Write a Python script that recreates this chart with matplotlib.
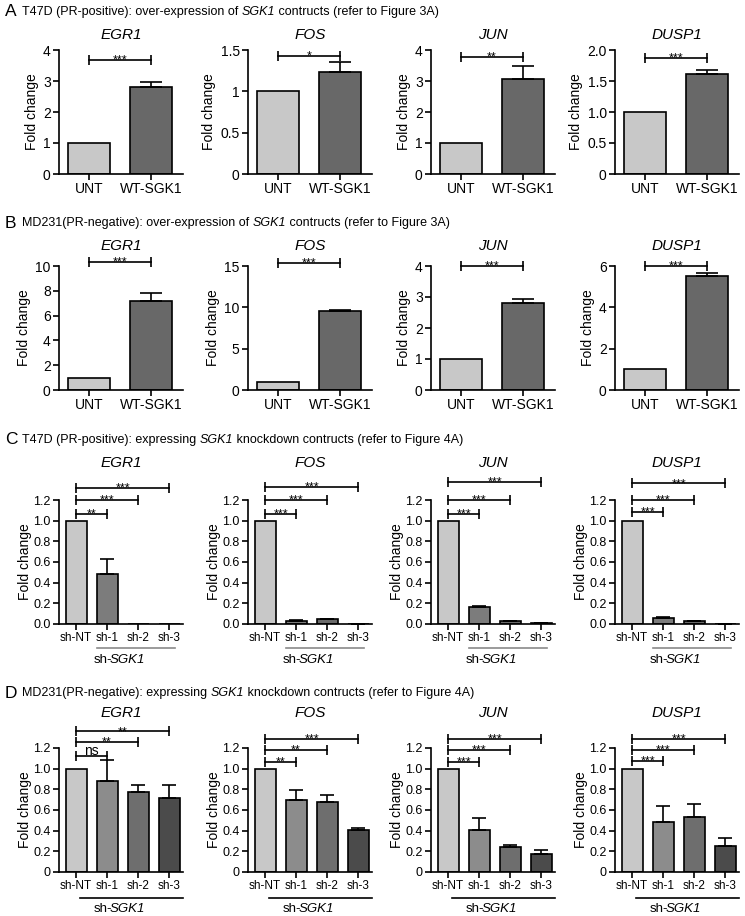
import numpy as np
import matplotlib
matplotlib.use('Agg')
import matplotlib.pyplot as plt
from matplotlib.transforms import blended_transform_factory

plt.rcParams['font.family'] = ['Liberation Sans', 'DejaVu Sans']

# data
genes = ['EGR1', 'FOS', 'JUN', 'DUSP1']
oe_groups = ['UNT', 'WT-SGK1']
kd_groups = ['sh-NT', 'sh-1', 'sh-2', 'sh-3']

a_vals = [[1.0, 2.80], [1.0, 1.23], [1.0, 3.05], [1.0, 1.61]]
a_errs = [[0, 0.18], [0, 0.12], [0, 0.42], [0, 0.07]]
a_sig = [['***'], ['*'], ['**'], ['***']]
a_sig_y = [[3.68], [1.43], [3.77], [1.87]]
a_yticks = [[0, 1, 2, 3, 4], [0, 0.5, 1, 1.5], [0, 1, 2, 3, 4], [0, 0.5, 1.0, 1.5, 2.0]]
a_yticklabels = [['0', '1', '2', '3', '4'], ['0', '0.5', '1', '1.5'],
                 ['0', '1', '2', '3', '4'], ['0', '0.5', '1.0', '1.5', '2.0']]

b_vals = [[1.0, 7.2], [1.0, 9.55], [1.0, 2.82], [1.0, 5.52]]
b_errs = [[0, 0.65], [0, 0.08], [0, 0.12], [0, 0.12]]
b_sig = [['***'], ['***'], ['***'], ['***']]
b_sig_y = [[10.3], [15.36], [4.0], [6.0]]
b_yticks = [[0, 2, 4, 6, 8, 10], [0, 5, 10, 15], [0, 1, 2, 3, 4], [0, 2, 4, 6]]
b_yticklabels = [['0', '2', '4', '6', '8', '10'], ['0', '5', '10', '15'],
                 ['0', '1', '2', '3', '4'], ['0', '2', '4', '6']]

c_vals = [[1.0, 0.48, 0.0, 0.0], [1.0, 0.03, 0.045, 0.003],
          [1.0, 0.16, 0.025, 0.005], [1.0, 0.06, 0.025, 0.003]]
c_errs = [[0, 0.15, 0, 0], [0, 0.008, 0.005, 0.001],
          [0, 0.015, 0.004, 0.002], [0, 0.008, 0.005, 0.001]]
c_sig = [['**', '***', '***'], ['***', '***', '***'],
         ['***', '***', '***'], ['***', '***', '***']]
c_sig_y = [[1.067, 1.2, 1.32], [1.067, 1.2, 1.33], [1.064, 1.2, 1.37], [1.083, 1.2, 1.36]]
c_yticks = [0, 0.2, 0.4, 0.6, 0.8, 1.0, 1.2]
c_yticklabels = ['0.0', '0.2', '0.4', '0.6', '0.8', '1.0', '1.2']

d_vals = [[1.0, 0.88, 0.77, 0.72], [1.0, 0.70, 0.68, 0.41],
          [1.0, 0.41, 0.24, 0.17], [1.0, 0.48, 0.53, 0.255]]
d_errs = [[0, 0.20, 0.07, 0.12], [0, 0.09, 0.07, 0.012],
          [0, 0.11, 0.02, 0.04], [0, 0.16, 0.13, 0.07]]
d_sig = [['ns', '**', '**'], ['**', '**', '***'],
         ['***', '***', '***'], ['***', '***', '***']]
d_sig_y = [[1.12, 1.26, 1.36], [1.065, 1.18, 1.29], [1.065, 1.18, 1.29], [1.07, 1.18, 1.29]]
d_yticks = [0, 0.2, 0.4, 0.6, 0.8, 1.0, 1.2]
d_yticklabels = ['0', '0.2', '0.4', '0.6', '0.8', '1.0', '1.2']

letters = ['A', 'B', 'C', 'D']
header_pre = ['T47D (PR-positive): over-expression of ',
              'MD231(PR-negative): over-expression of ',
              'T47D (PR-positive): expressing ',
              'MD231(PR-negative): expressing ']
header_post = [' contructs (refer to Figure 3A)',
               ' contructs (refer to Figure 3A)',
               ' knockdown contructs (refer to Figure 4A)',
               ' knockdown contructs (refer to Figure 4A)']

oe_colors = ['#c8c8c8', '#686868']
c_colors = ['#c8c8c8', '#7c7c7c', '#6a6a6a', '#505050']
d_colors = ['#c8c8c8', '#8c8c8c', '#6e6e6e', '#4b4b4b']

W, H = 745, 916
fig = plt.figure(figsize=(W / 100, H / 100), dpi=100)
renderer = fig.canvas.get_renderer()

col_left = [59, 248, 431, 615]
row_top = [50, 266, 500, 748]
ax_w, ax_h = 124, 124
header_y = [12, 223, 440, 693]
title_dy = [15, 20, 37, 35]


def text_w(s, fs):
    t = fig.text(0, 0, s.replace(' ', '\u00a0'), fontsize=fs)
    w = t.get_window_extent(renderer=renderer).width
    t.remove()
    return w


def rich_text(x_px, y_px, pieces, fs, center=False, kern=0.0):
    # pieces: list of (string, style); placed using the advance of the joined string
    full = ''.join(s for s, _ in pieces)
    x0 = x_px - text_w(full, fs) / 2 if center else x_px
    acc = ''
    for i, (s, st) in enumerate(pieces):
        acc += s
        start = text_w(acc, fs) - text_w(s, fs) + (kern if i > 0 else 0)
        fig.text((x0 + start) / W, 1 - y_px / H, s.replace(' ', '\u00a0'), fontsize=fs,
                 style=st, va='center', ha='left')


def make_ax(r, c):
    return fig.add_axes([col_left[c] / W, 1 - (row_top[r] + ax_h) / H, ax_w / W, ax_h / H])


def panel(ax, groups, vals, errs, colors, yticks, yticklabels, gene, sigs, sig_ys,
          capsize, dy, fs, lpad):
    n = len(groups)
    x = np.arange(n)
    vals = np.array(vals)
    errs = np.array(errs)
    ax.bar(x, vals, width=0.68, color=colors, edgecolor='black', linewidth=1.2, zorder=2)
    m = errs > 0
    ax.errorbar(x[m], vals[m], yerr=[np.zeros(m.sum()), errs[m]], fmt='none',
                ecolor='black', elinewidth=1.2, capsize=capsize, capthick=1.2, zorder=3)
    if n == 2:
        ax.set_xlim(-0.48, 1.52)
    else:
        ax.set_xlim(-0.55, 3.45)
    ax.set_ylim(0, yticks[-1])
    ax.set_yticks(yticks)
    ax.set_yticklabels(yticklabels)
    ax.set_xticks(x)
    ax.set_xticklabels(groups)
    for s in ['top', 'right']:
        ax.spines[s].set_visible(False)
    for s in ['left', 'bottom']:
        ax.spines[s].set_linewidth(1.2)
    ax.tick_params(direction='out', length=4, width=1.2, labelsize=fs, pad=2)
    ax.set_ylabel('Fold change', fontsize=10, labelpad=lpad)
    ax.text(0.5, 1 + dy / ax_h, gene, transform=ax.transAxes, ha='center', va='center',
            fontsize=11, style='italic')
    for j, (s, y) in enumerate(zip(sigs, sig_ys), start=1):
        ax.plot([0, j], [y, y], color='black', lw=1.2, marker='|', ms=7, mew=1.2,
                clip_on=False, zorder=4)
        off = 0.6 if s == 'ns' else -2.5
        sfs = 10 if s == 'ns' else 9
        ax.annotate(s, xy=(j / 2, y), xytext=(0, off), textcoords='offset points',
                    ha='center', va='baseline', fontsize=sfs, annotation_clip=False)


def sh_bracket(ax, c, x0, x1, ly, ty_px, color):
    tr = blended_transform_factory(ax.transData, ax.transAxes)
    ax.plot([x0, x1], [ly, ly], color=color, lw=1.2, transform=tr, clip_on=False)
    rich_text(col_left[c] + ax_w / 2, ty_px, [('sh-', 'normal'), ('SGK1', 'italic')], 9.5,
              center=True, kern=-2.5)


for r in range(4):
    fig.text(5 / W, 1 - header_y[r] / H, letters[r], fontsize=12.5, va='center', ha='left')
    rich_text(22, header_y[r], [(header_pre[r], 'normal'), ('SGK1', 'italic'),
                                (header_post[r], 'normal')], 9)

for c in range(4):
    ax = make_ax(0, c)
    panel(ax, oe_groups, a_vals[c], a_errs[c], oe_colors, a_yticks[c], a_yticklabels[c],
          genes[c], a_sig[c], a_sig_y[c], 8, title_dy[0], 10, 3)
    ax = make_ax(1, c)
    panel(ax, oe_groups, b_vals[c], b_errs[c], oe_colors, b_yticks[c], b_yticklabels[c],
          genes[c], b_sig[c], b_sig_y[c], 8, title_dy[1], 10, 3)
    ax = make_ax(2, c)
    panel(ax, kd_groups, c_vals[c], c_errs[c], c_colors, c_yticks, c_yticklabels,
          genes[c], c_sig[c], c_sig_y[c], 5, title_dy[2], 9, 1)
    ax.tick_params(axis='x', labelsize=8.5)
    sh_bracket(ax, c, 0.68, 3.2, -0.19, 660, '#8a8a8a')
    ax = make_ax(3, c)
    panel(ax, kd_groups, d_vals[c], d_errs[c], d_colors, d_yticks, d_yticklabels,
          genes[c], d_sig[c], d_sig_y[c], 5, title_dy[3], 9, 1)
    ax.tick_params(axis='x', labelsize=8.5)
    sh_bracket(ax, c, 0.13, 3.45, -0.21, 909, 'black')

fig.savefig('out.png', dpi=100)
